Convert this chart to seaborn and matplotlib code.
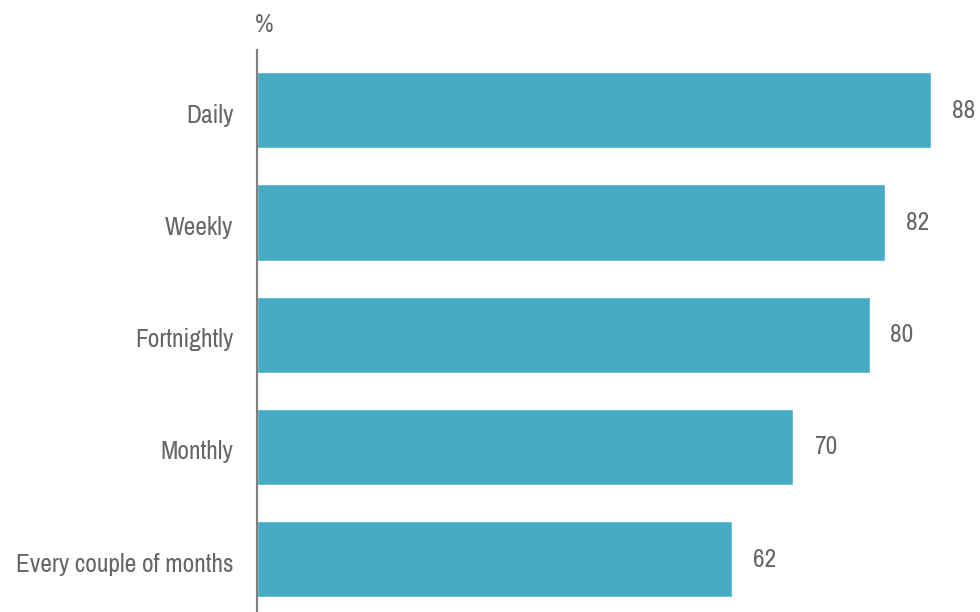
import matplotlib
matplotlib.use("Agg")
import matplotlib.pyplot as plt
from matplotlib import font_manager as fm
from matplotlib.transforms import ScaledTranslation
import seaborn as sns
import pandas as pd

categories = ["Daily", "Weekly", "Fortnightly", "Monthly", "Every couple of months"]
values = [88, 82, 80, 70, 62]

bar_color = "#46acc6"
text_color = "#666666"

sns.set_style("white")

# look for a narrow / condensed face, the original uses a condensed font
narrow = [f for f in fm.fontManager.ttflist
          if ("Narrow" in f.name or "Condensed" in f.name or "ondensed" in str(f.stretch)
              or "Condensed" in f.fname) and "Bold" not in f.fname and "Oblique" not in f.fname
          and "Italic" not in f.fname]
narrow.sort(key=lambda f: (0 if "Narrow" in f.name else 1, f.fname))
if narrow:
    prop = fm.FontProperties(fname=narrow[0].fname)
    size = 18.3
else:
    prop = fm.FontProperties(family="DejaVu Sans")
    size = 15
plt.rcParams["font.family"] = ["DejaVu Sans"]

df = pd.DataFrame({"freq": categories, "pct": values})

fig = plt.figure(figsize=(9.8, 6.12), dpi=100)
ax = fig.add_axes([257 / 980, 0, (980 - 257) / 980, 562 / 612])

sns.barplot(data=df, x="pct", y="freq", orient="h", color=bar_color,
            saturation=1, width=0.68, ax=ax)

ax.set_xlim(0, 94.4)
ax.set_ylim(4.47, -0.536)

for i, v in enumerate(values):
    ax.text(v + 2.7, i, str(v), va="center", ha="left", fontproperties=prop,
            fontsize=size, color=text_color, clip_on=False)

ax.set_xlabel("")
ax.set_ylabel("")
ax.set_xticks([])
ax.tick_params(axis="y", length=0, pad=17, labelcolor=text_color)
shift = ScaledTranslation(0, -3 / 100, fig.dpi_scale_trans)
for lbl in ax.get_yticklabels():
    lbl.set_fontproperties(prop)
    lbl.set_fontsize(size)
    lbl.set_transform(lbl.get_transform() + shift)

for s in ["top", "right", "bottom"]:
    ax.spines[s].set_visible(False)
ax.spines["left"].set_color("#808080")
ax.spines["left"].set_linewidth(1.6)

fig.text(255 / 980, 1 - 25 / 612, "%", ha="left", va="center", fontproperties=prop,
         fontsize=size, color=text_color)

fig.savefig("out.png", dpi=100)
